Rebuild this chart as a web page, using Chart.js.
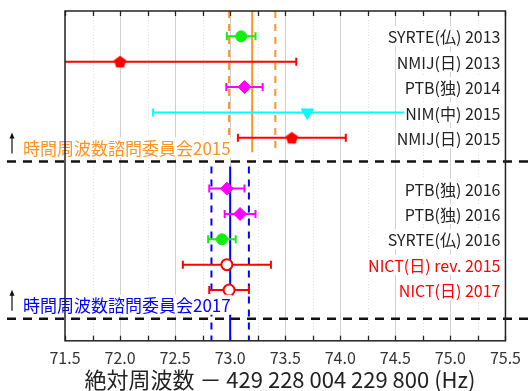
<!DOCTYPE html>
<html>
<head>
<meta charset="utf-8">
<script src="https://cdn.jsdelivr.net/npm/chart.js@4.4.1/dist/chart.umd.min.js"></script>
<style>
  html, body { margin: 0; padding: 0; background: #fff; }
</style>
</head>
<body>
<canvas id="chart" width="529" height="391"></canvas>
<script>
// ── DATA ───────────────────────────────────────────────────────
const LABELS = ['SYRTE(仏) 2013', 'NMIJ(日) 2013', 'PTB(独) 2014', 'NIM(中) 2015', 'NMIJ(日) 2015',
                'PTB(独) 2016', 'PTB(独) 2016', 'SYRTE(仏) 2016', 'NICT(日) rev. 2015', 'NICT(日) 2017'];
const VALUES = [73.10, 72.00, 73.13, 73.70, 73.56, 72.97, 73.09, 72.925, 72.97, 72.99];
const ERRORS = [0.13, 1.60, 0.165, 1.40, 0.49, 0.16, 0.14, 0.125, 0.40, 0.18];
const ROWS   = [1, 2, 3, 4, 5, 7, 8, 9, 10, 11];

const CIPM_TEXT  = ['時間周波数諮問委員会2015', '時間周波数諮問委員会2017'];
const CIPM_VALUE = [73.2, 73.0];
const CIPM_UNC   = [0.21, 0.17];
const CIPM_FROM  = [0, 6.13];
const CIPM_TO    = [5.57, 13];
const SEPARATORS = [5.93, 12.13];

const X_MIN = 71.5, X_MAX = 75.5, X_STEP = 0.25;
const X_TITLE = '絶対周波数 － 429 228 004 229 800 (Hz)';

// ── STYLES ─────────────────────────────────────────────────────
const RED = '#ff0000', GREEN = '#11ee11', MAGENTA = '#ff00ff', CYAN = '#00ffff';
const ORANGE = '#ff9326', BLUE = '#0000ff';
const FONT = "'Noto Sans CJK JP', 'Noto Sans', sans-serif";

function pentagon(color, r) {
  const c = document.createElement('canvas');
  const s = Math.ceil(r * 2 + 2);
  c.width = c.height = s;
  const g = c.getContext('2d');
  g.fillStyle = color;
  g.beginPath();
  for (let k = 0; k < 5; k++) {
    const a = -Math.PI / 2 + k * 2 * Math.PI / 5;
    const px = s / 2 + r * Math.cos(a), py = s / 2 + r * Math.sin(a) + 0.5;
    k ? g.lineTo(px, py) : g.moveTo(px, py);
  }
  g.closePath();
  g.fill();
  return c;
}
const PENT = pentagon(RED, 6.5);

const MARK_STYLE = ['circle', PENT, 'rectRot', 'triangle', PENT, 'rectRot', 'rectRot', 'circle', 'circle', 'circle'];
const MARK_ROT   = [0, 0, 0, 180, 0, 0, 0, 0, 0, 0];
const MARK_COLOR = [GREEN, RED, MAGENTA, CYAN, RED, MAGENTA, MAGENTA, GREEN, RED, RED];
const MARK_FILL  = [GREEN, RED, MAGENTA, CYAN, RED, MAGENTA, MAGENTA, GREEN, '#fff', '#fff'];
const MARK_SIZE  = [5.5, 7, 6.5, 7, 7, 6.5, 6.5, 5.5, 5.5, 5.5];
const LABEL_COLOR = ['#222', '#222', '#222', '#222', '#222', '#222', '#222', '#222', RED, RED];
const CIPM_COLOR = [ORANGE, BLUE];

// ── DATASETS ───────────────────────────────────────────────────
const points = {
  label: 'points',
  data: VALUES.map((v, i) => ({ x: v, y: ROWS[i] })),
  pointStyle: MARK_STYLE,
  rotation: MARK_ROT,
  pointRadius: MARK_SIZE,
  backgroundColor: MARK_FILL,
  borderColor: MARK_COLOR,
  borderWidth: VALUES.map((_, i) => MARK_FILL[i] === '#fff' ? 2 : 1),
  showLine: false
};

const refLines = [];
CIPM_VALUE.forEach((v, k) => {
  [-1, 0, 1].forEach(s => {
    refLines.push({
      label: 'cipm' + k + s,
      data: [{ x: v + s * CIPM_UNC[k], y: CIPM_FROM[k] }, { x: v + s * CIPM_UNC[k], y: CIPM_TO[k] }],
      showLine: true,
      pointRadius: 0,
      borderColor: CIPM_COLOR[k],
      borderWidth: 2,
      borderDash: s === 0 ? [] : [7, 6]
    });
  });
});

// ── PLUGIN: grid, error bars, labels ───────────────────────────
const decor = {
  id: 'decor',
  beforeDatasetsDraw(chart) {
    const { ctx, chartArea: a, scales: { x } } = chart;
    ctx.save();
    for (let v = X_MIN; v <= X_MAX + 1e-9; v += X_STEP) {
      const px = Math.round(x.getPixelForValue(v)) + 0.5;
      const major = Math.abs(v * 2 - Math.round(v * 2)) < 1e-6;
      if (v > X_MIN + 1e-6 && v < X_MAX - 1e-6) {
        ctx.strokeStyle = major ? '#cfcfcf' : '#e2e2e2';
        ctx.lineWidth = 1;
        ctx.setLineDash(major ? [] : [1, 2]);
        ctx.beginPath(); ctx.moveTo(px, a.top); ctx.lineTo(px, a.bottom); ctx.stroke();
      }
      ctx.setLineDash([]);
      ctx.strokeStyle = '#222';
      ctx.lineWidth = 1.3;
      ctx.beginPath();
      ctx.moveTo(px, a.top); ctx.lineTo(px, a.top + 5);
      ctx.moveTo(px, a.bottom); ctx.lineTo(px, a.bottom - 5);
      ctx.stroke();
    }
    ctx.restore();
  },
  beforeDatasetDraw(chart, args) {
    if (args.index !== 0) return;
    const { ctx, chartArea: a, scales: { x, y } } = chart;
    ctx.save();
    ctx.beginPath(); ctx.rect(a.left, a.top, a.right - a.left, a.bottom - a.top); ctx.clip();
    ctx.lineWidth = 2;
    VALUES.forEach((v, i) => {
      const py = y.getPixelForValue(ROWS[i]);
      const x0 = x.getPixelForValue(v - ERRORS[i]);
      const x1 = x.getPixelForValue(v + ERRORS[i]);
      ctx.strokeStyle = MARK_COLOR[i];
      ctx.beginPath();
      ctx.moveTo(x0, py); ctx.lineTo(x1, py);
      ctx.moveTo(x0, py - 4); ctx.lineTo(x0, py + 4);
      ctx.moveTo(x1, py - 4); ctx.lineTo(x1, py + 4);
      ctx.stroke();
    });
    ctx.restore();
  },
  afterDatasetsDraw(chart) {
    const { ctx, chartArea: a, scales: { x, y } } = chart;
    ctx.save();

    // row labels on white boxes
    ctx.font = '16px ' + FONT;
    ctx.textAlign = 'right';
    ctx.textBaseline = 'middle';
    LABELS.forEach((t, i) => {
      const py = y.getPixelForValue(ROWS[i]);
      const w = ctx.measureText(t).width;
      ctx.fillStyle = '#fff';
      ctx.fillRect(a.right - 5 - w - 1, py - 10, w + 3, 20);
      ctx.fillStyle = LABEL_COLOR[i];
      ctx.fillText(t, a.right - 5, py + 1);
    });

    // committee labels + arrows
    ctx.font = '17px ' + FONT;
    ctx.textAlign = 'left';
    CIPM_TEXT.forEach((t, k) => {
      const sy = y.getPixelForValue(SEPARATORS[k]);
      const ty = sy - 14;
      const w = ctx.measureText(t).width;
      ctx.fillStyle = '#fff';
      ctx.fillRect(22, ty - 10, w + 2, 20);
      ctx.fillStyle = CIPM_COLOR[k];
      ctx.fillText(t, 23, ty + 1);

      ctx.strokeStyle = '#111';
      ctx.fillStyle = '#111';
      ctx.lineWidth = 1.2;
      ctx.beginPath(); ctx.moveTo(12, sy - 8); ctx.lineTo(12, sy - 26); ctx.stroke();
      ctx.beginPath(); ctx.moveTo(12, sy - 29); ctx.lineTo(9.5, sy - 23); ctx.lineTo(14.5, sy - 23); ctx.closePath(); ctx.fill();
    });

    // separators
    ctx.strokeStyle = '#111';
    ctx.lineWidth = 2.5;
    ctx.setLineDash([9, 7]);
    SEPARATORS.forEach(r => {
      const py = y.getPixelForValue(r);
      ctx.beginPath(); ctx.moveTo(7, py); ctx.lineTo(chart.width, py); ctx.stroke();
    });
    ctx.setLineDash([]);

    // frame
    ctx.strokeStyle = '#222';
    ctx.lineWidth = 1.5;
    ctx.strokeRect(a.left, a.top, a.right - a.left, a.bottom - a.top);

    // axis title
    ctx.font = '22px ' + FONT;
    ctx.fillStyle = '#222';
    ctx.textAlign = 'center';
    ctx.fillText(X_TITLE, 280, 380);
    ctx.restore();
  }
};

// ── CHART ──────────────────────────────────────────────────────
new Chart(document.getElementById('chart').getContext('2d'), {
  type: 'scatter',
  data: { datasets: [points, ...refLines] },
  options: {
    responsive: false,
    animation: false,
    layout: { padding: { left: 65, right: 15, top: 11, bottom: 15 } },
    plugins: { legend: { display: false }, tooltip: { enabled: false } },
    scales: {
      x: {
        min: X_MIN, max: X_MAX,
        grid: { display: false, drawTicks: false },
        border: { display: false },
        ticks: {
          stepSize: X_STEP,
          padding: 8,
          color: '#333',
          font: { family: FONT, size: 16 },
          maxRotation: 0,
          autoSkip: false,
          callback: v => Math.abs(v * 2 - Math.round(v * 2)) < 1e-6 ? v.toFixed(1) : ''
        }
      },
      y: { display: false, min: 0, max: 13, reverse: true }
    }
  },
  plugins: [decor]
});
</script>
</body>
</html>
